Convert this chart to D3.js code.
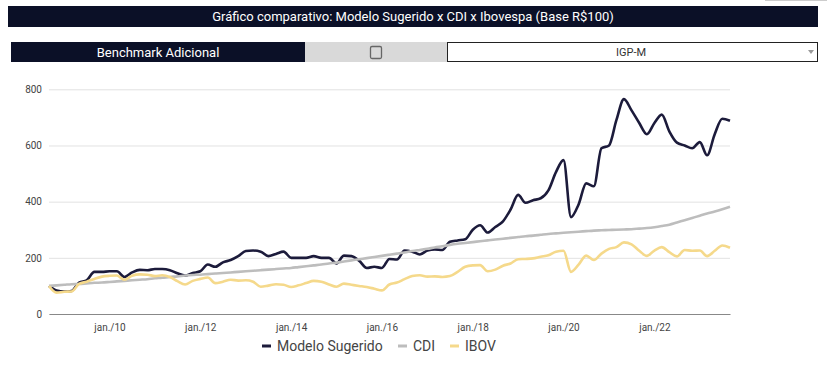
<!DOCTYPE html>
<html>
<head>
<meta charset="utf-8">
<script src="https://cdn.jsdelivr.net/npm/d3@7"></script>
<style>
  body { margin: 0; background: #fff; font-family: Roboto, Arial, sans-serif; }
  svg { display: block; }
</style>
</head>
<body>
<svg width="827" height="369"></svg>
<script>
// bimonthly points, Sep 2008 .. Sep 2023
var startDate = new Date(2008, 8, 1)
var modelo = [100, 84, 80, 82, 112, 120, 150, 150, 152, 152, 132, 148, 157, 156, 160, 160,
    156, 145, 137, 146, 152, 176, 168, 184, 192, 206, 224, 226, 222, 206, 214, 222,
    200, 200, 200, 206, 200, 200, 180, 208, 206, 190, 164, 168, 164, 196, 194, 226,
    222, 212, 226, 230, 228, 257, 262, 266, 300, 316, 290, 310, 330, 372, 424, 396,
    405, 412, 440, 505, 548, 345, 390, 465, 455, 590, 600, 690, 765, 725, 680, 640,
    680, 710, 650, 610, 600, 590, 612, 565, 640, 695, 688]
var cdi = [100, 102, 104, 106, 107, 109, 111, 112, 114, 116, 118, 120, 122, 124, 127, 129,
    132, 134, 137, 139, 140, 142, 144, 146, 148, 150, 152, 154, 156, 158, 160, 162,
    164, 167, 170, 173, 176, 180, 183, 187, 191, 195, 199, 203, 207, 211, 215, 219,
    224, 228, 232, 237, 241, 246, 250, 253, 256, 259, 262, 265, 268, 271, 274, 277,
    279, 282, 285, 287, 289, 291, 293, 295, 297, 298, 299, 300, 301, 302, 304, 306,
    309, 313, 318, 326, 334, 342, 350, 358, 365, 373, 382]
var ibov = [100, 76, 79, 80, 107, 115, 125, 133, 136, 137, 122, 136, 141, 140, 135, 138,
    132, 117, 105, 118, 125, 130, 110, 115, 122, 119, 120, 115, 97, 101, 106, 104,
    96, 102, 110, 118, 115, 105, 97, 108, 104, 100, 96, 90, 84, 105, 112, 124,
    135, 138, 133, 134, 132, 135, 150, 168, 173, 174, 152, 158, 172, 180, 195, 196,
    198, 204, 209, 222, 225, 150, 176, 208, 192, 215, 232, 238, 255, 248, 225, 207,
    226, 238, 220, 205, 228, 225, 226, 206, 225, 244, 236]
var seriesNames = ["Modelo Sugerido", "CDI", "IBOV"]
var seriesColors = ["#1c1b3b", "#bdbdbd", "#f5d98b"]
var yTicks = [0, 200, 400, 600, 800]
var xTickYears = [2010, 2012, 2014, 2016, 2018, 2020, 2022]

var dates = modelo.map((d, i) => d3.timeMonth.offset(startDate, i * 2))

var svg = d3.select("svg")

// title bar
svg.append("rect").attr("x", 8).attr("y", 6).attr("width", 810).attr("height", 21).attr("fill", "#0b1027")
svg.append("text").attr("x", 413).attr("y", 21).attr("text-anchor", "middle")
    .attr("fill", "#fff").attr("font-size", 13).text("Gráfico comparativo: Modelo Sugerido x CDI x Ibovespa (Base R$100)")
svg.append("line").attr("x1", 765).attr("x2", 827).attr("y1", 0.5).attr("y2", 0.5).attr("stroke", "#ccc")

// controls row
svg.append("rect").attr("x", 11).attr("y", 42).attr("width", 294).attr("height", 20).attr("fill", "#0b1027")
svg.append("text").attr("x", 158).attr("y", 56.5).attr("text-anchor", "middle")
    .attr("fill", "#fff").attr("font-size", 13).text("Benchmark Adicional")
svg.append("rect").attr("x", 305).attr("y", 42).attr("width", 142).attr("height", 20).attr("fill", "#d9d9d9")
svg.append("rect").attr("x", 370.5).attr("y", 46.5).attr("width", 11).attr("height", 12).attr("rx", 1.5)
    .attr("fill", "none").attr("stroke", "#666").attr("stroke-width", 1.3)
svg.append("rect").attr("x", 447.5).attr("y", 42.5).attr("width", 370).attr("height", 19)
    .attr("fill", "#fff").attr("stroke", "#222")
svg.append("text").attr("x", 631).attr("y", 56).attr("text-anchor", "middle")
    .attr("fill", "#333").attr("font-size", 11).text("IGP-M")
svg.append("path").attr("d", "M808,50 L814,50 L811,54 Z").attr("fill", "#999")

// scales
var x = d3.scaleTime().domain([startDate, dates[dates.length - 1]]).range([49, 730])
var y = d3.scaleLinear().domain([0, 800]).range([314, 89.3])

// grid + y labels
var yAxis = svg.append("g").attr("transform", "translate(49,0)")
    .call(d3.axisLeft(y).tickValues(yTicks).tickSize(-681).tickPadding(7))
yAxis.select(".domain").remove()
yAxis.selectAll(".tick line").attr("stroke", "#e2e2e2").attr("stroke-width", 1)
yAxis.selectAll(".tick text").attr("fill", "#444").attr("font-size", 10).attr("font-family", "Roboto, Arial, sans-serif")

// x axis
var xAxis = svg.append("g").attr("transform", "translate(0,314)")
    .call(d3.axisBottom(x).tickValues(xTickYears.map(yr => new Date(yr, 0, 1)))
        .tickSize(0).tickPadding(10).tickFormat(d => "jan./" + String(d.getFullYear()).slice(2)))
xAxis.select(".domain").attr("stroke", "#888").attr("stroke-width", 1.2)
xAxis.selectAll(".tick text").attr("fill", "#444").attr("font-size", 10).attr("font-family", "Roboto, Arial, sans-serif")

// lines
var line = d3.line().x((d, i) => x(dates[i])).y(d => y(d)).curve(d3.curveMonotoneX)
var allSeries = [modelo, cdi, ibov]
svg.selectAll("path.serie").data(allSeries).enter().append("path")
    .attr("class", "serie")
    .attr("d", d => line(d))
    .attr("fill", "none")
    .attr("stroke", (d, i) => seriesColors[i])
    .attr("stroke-width", 2.6)
    .attr("stroke-linejoin", "round")

// legend
var legX = [262, 398, 450]
var leg = svg.selectAll("g.leg").data(seriesNames).enter().append("g").attr("class", "leg")
    .attr("transform", (d, i) => "translate(" + legX[i] + ",346)")
leg.append("rect").attr("x", 0).attr("y", -1.5).attr("width", 9).attr("height", 3)
    .attr("fill", (d, i) => seriesColors[i])
leg.append("text").attr("x", 15).attr("y", 5).attr("font-size", 14).attr("fill", "#444").text(d => d)
</script>
</body>
</html>
